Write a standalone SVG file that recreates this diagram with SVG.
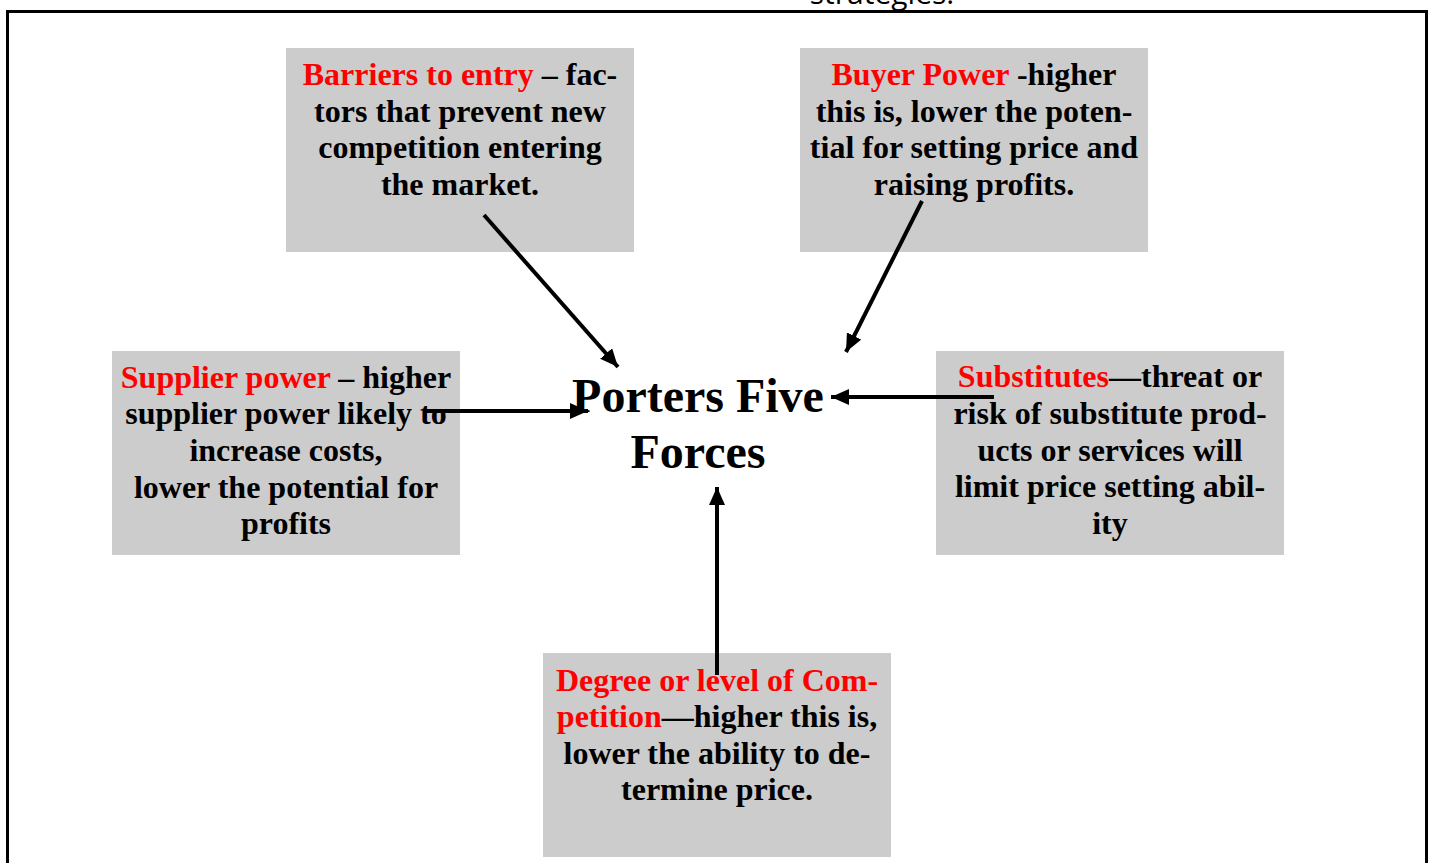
<svg xmlns="http://www.w3.org/2000/svg" width="1435" height="863" viewBox="0 0 1435 863">
<style>
.box{fill:#cccccc;}
.t{font-family:"Liberation Serif","Times New Roman",serif;font-weight:bold;font-size:32px;fill:#000;text-anchor:middle;}
.r{fill:#ff0000;}
.big{font-family:"Liberation Serif","Times New Roman",serif;font-weight:bold;font-size:48px;fill:#000;text-anchor:middle;}
.conn{stroke:#000;stroke-width:4;fill:none;marker-end:url(#ah);}
</style>
<defs>
<marker id="ah" markerUnits="userSpaceOnUse" markerWidth="20" markerHeight="16" refX="18" refY="8" orient="auto">
<path d="M0,0 L18,8 L0,16 Z" fill="#000"/>
</marker>
</defs>
<rect width="1435" height="863" fill="#fff"/>
<text x="882" y="4" font-family="'Open Sans',sans-serif" font-size="30" text-anchor="middle" fill="#000">strategies.</text>
<rect x="7.5" y="11.5" width="1419" height="870" fill="none" stroke="#000" stroke-width="3"/>

<g id="barriers">
<rect class="box" x="286" y="48" width="348" height="204"/>
<text class="t" x="460" y="85"><tspan class="r">Barriers to entry</tspan> – fac-</text>
<text class="t" x="460" y="122">tors that prevent new</text>
<text class="t" x="460" y="158">competition entering</text>
<text class="t" x="460" y="195">the market.</text>
</g>

<g id="buyer">
<rect class="box" x="800" y="48" width="348" height="204"/>
<text class="t" x="974" y="85"><tspan class="r">Buyer Power</tspan> -higher</text>
<text class="t" x="974" y="122">this is, lower the poten-</text>
<text class="t" x="974" y="158">tial for setting price and</text>
<text class="t" x="974" y="195">raising profits.</text>
</g>

<g id="supplier">
<rect class="box" x="112" y="351" width="348" height="204"/>
<text class="t" x="286" y="388"><tspan class="r">Supplier power</tspan> – higher</text>
<text class="t" x="286" y="424">supplier power likely to</text>
<text class="t" x="286" y="461">increase costs,</text>
<text class="t" x="286" y="498">lower the potential for</text>
<text class="t" x="286" y="534">profits</text>
</g>

<g id="substitutes">
<rect class="box" x="936" y="351" width="348" height="204"/>
<text class="t" x="1110" y="387"><tspan class="r">Substitutes</tspan>—threat or</text>
<text class="t" x="1110" y="424">risk of substitute prod-</text>
<text class="t" x="1110" y="461">ucts or services will</text>
<text class="t" x="1110" y="497">limit price setting abil-</text>
<text class="t" x="1110" y="534">ity</text>
</g>

<g id="competition">
<rect class="box" x="543" y="653" width="348" height="204"/>
<text class="t" x="717" y="691"><tspan class="r">Degree or level of Com-</tspan></text>
<text class="t" x="717" y="727"><tspan class="r">petition</tspan>—higher this is,</text>
<text class="t" x="717" y="764">lower the ability to de-</text>
<text class="t" x="717" y="800">termine price.</text>
</g>

<g id="center">
<text class="big" x="698" y="412">Porters Five</text>
<text class="big" x="698" y="468">Forces</text>
</g>

<g id="connectors">
<line class="conn" x1="484" y1="215" x2="618" y2="367"/>
<line class="conn" x1="922" y1="201" x2="846" y2="352"/>
<line class="conn" x1="424" y1="411" x2="588" y2="411"/>
<line class="conn" x1="994" y1="397" x2="831" y2="397"/>
<line class="conn" x1="717" y1="675" x2="717" y2="487"/>
</g>
</svg>
